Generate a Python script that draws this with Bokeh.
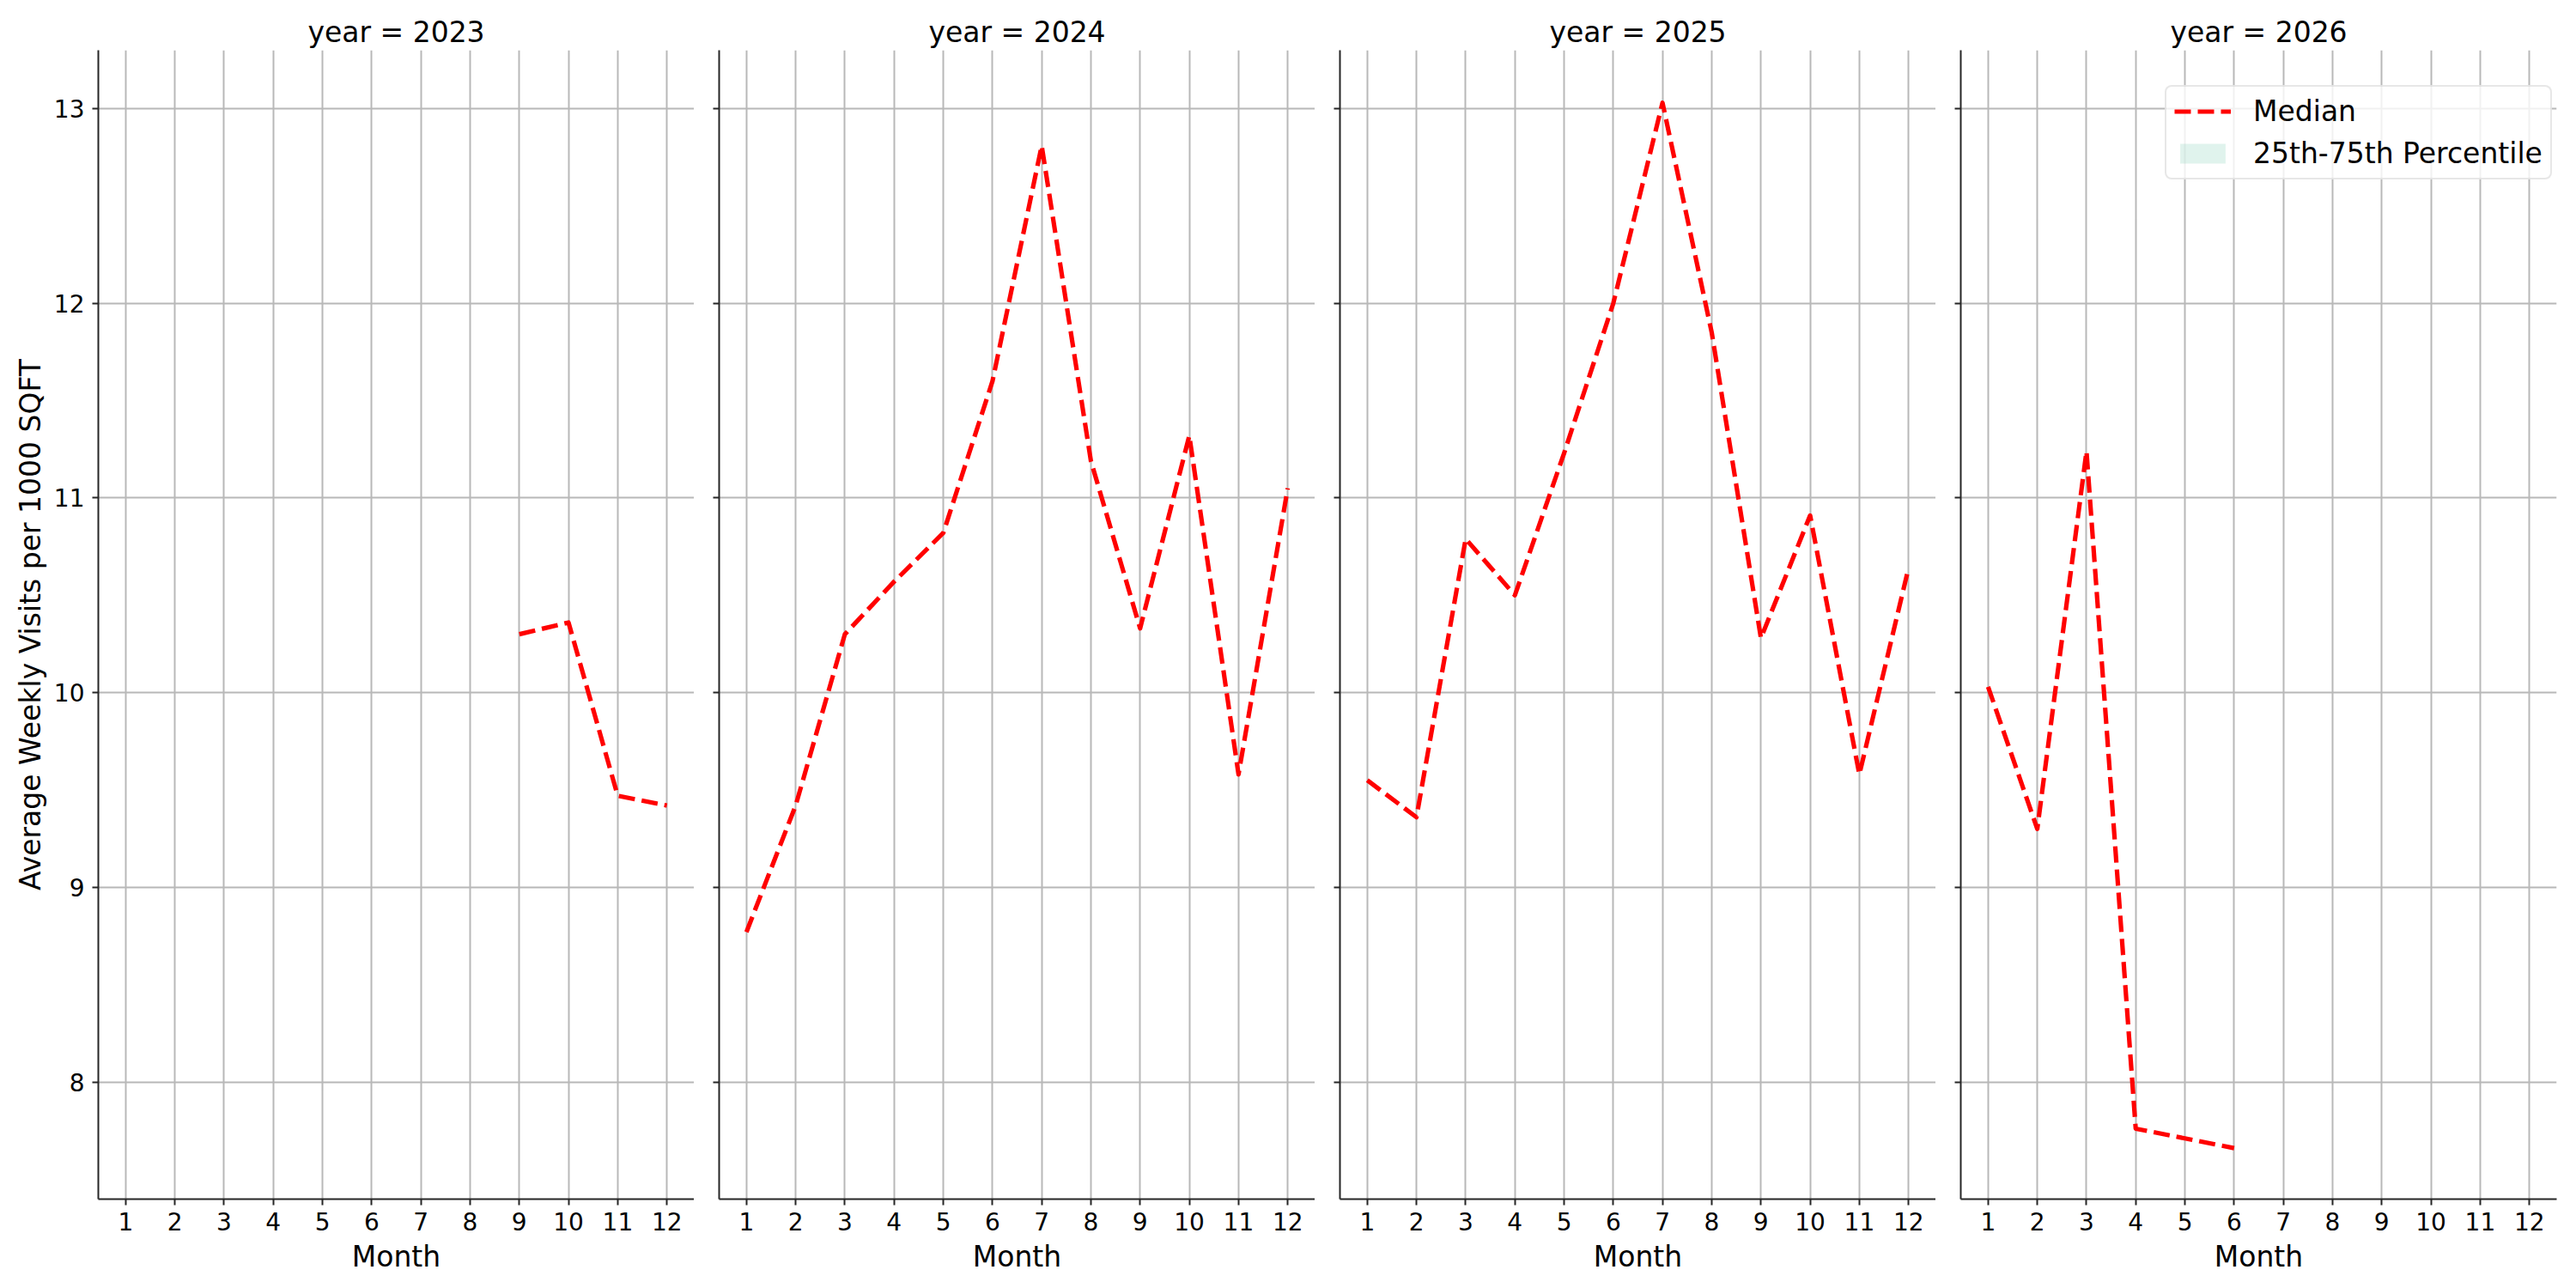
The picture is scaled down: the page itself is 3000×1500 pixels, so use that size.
from bokeh.plotting import figure
from bokeh.layouts import row
from bokeh.models import Range1d, FixedTicker, Legend, LegendItem, ColumnDataSource
from bokeh.embed import file_html
from bokeh.resources import INLINE

# ---- data ----
years = [2023, 2024, 2025, 2026]
month_ticks = [1, 2, 3, 4, 5, 6, 7, 8, 9, 10, 11, 12]
value_ticks = [8, 9, 10, 11, 12, 13]

months_2023 = [9, 10, 11, 12]
median_2023 = [10.30, 10.36, 9.47, 9.42]

months_2024 = [1, 2, 3, 4, 5, 6, 7, 8, 9, 10, 11, 12]
median_2024 = [8.77, 9.42, 10.30, 10.57, 10.82, 11.60, 12.81, 11.19, 10.33, 11.32, 9.58, 11.05]

months_2025 = [1, 2, 3, 4, 5, 6, 7, 8, 9, 10, 11, 12]
median_2025 = [9.55, 9.36, 10.79, 10.50, 11.23, 12.00, 13.03, 11.85, 10.28, 10.91, 9.58, 10.64]

months_2026 = [1, 2, 3, 4, 5, 6]
median_2026 = [10.03, 9.30, 11.24, 7.76, 7.71, 7.66]

# 25th-75th percentile band: no visible width in the reference,
# i.e. the 25th and 75th percentiles coincide with the median.
p25_2023 = list(median_2023)
p75_2023 = list(median_2023)
p25_2024 = list(median_2024)
p75_2024 = list(median_2024)
p25_2025 = list(median_2025)
p75_2025 = list(median_2025)
p25_2026 = list(median_2026)
p75_2026 = list(median_2026)

series = {
    2023: (months_2023, median_2023, p25_2023, p75_2023),
    2024: (months_2024, median_2024, p25_2024, p75_2024),
    2025: (months_2025, median_2025, p25_2025, p75_2025),
    2026: (months_2026, median_2026, p25_2026, p75_2026),
}

FONT = "DejaVu Sans"
AX = "#262626"
GRID = "#b8b8b8"

figs = []
for i, yr in enumerate(years):
    last = (i == len(years) - 1)
    first = (i == 0)
    w = (114 if first else 29) + 694 + (23 if last else 0)
    p = figure(width=w, height=1500, output_backend="svg", toolbar_location=None,
               x_range=Range1d(0.445, 12.555), y_range=Range1d(7.398, 13.30),
               min_border_left=(114 if first else 29), min_border_right=(23 if last else 0),
               min_border_top=58, min_border_bottom=104)
    p.outline_line_color = None
    p.background_fill_color = "white"
    p.border_fill_color = "white"

    p.title.text = f"year = {yr}"
    p.title.align = "center"
    p.title.text_font = FONT
    p.title.text_font_size = "33px"
    p.title.text_font_style = "normal"
    p.title.text_color = "black"
    p.title.standoff = 4

    xa = p.xaxis[0]
    ya = p.yaxis[0]
    xa.ticker = FixedTicker(ticks=month_ticks)
    ya.ticker = FixedTicker(ticks=value_ticks)
    p.xgrid[0].ticker = FixedTicker(ticks=month_ticks)
    p.ygrid[0].ticker = FixedTicker(ticks=value_ticks)
    for g in (p.xgrid[0], p.ygrid[0]):
        g.grid_line_color = GRID
        g.grid_line_width = 2

    for ax in (xa, ya):
        ax.axis_line_color = AX
        ax.axis_line_width = 2
        ax.major_tick_line_color = AX
        ax.major_tick_line_width = 2
        ax.major_tick_out = 7
        ax.major_tick_in = 0
        ax.minor_tick_line_color = None
        ax.major_label_text_font = FONT
        ax.major_label_text_font_size = "28px"
        ax.major_label_text_color = "black"
        ax.axis_label_text_font = FONT
        ax.axis_label_text_font_size = "33px"
        ax.axis_label_text_font_style = "normal"
        ax.axis_label_text_color = "black"
    xa.major_label_standoff = 8
    ya.major_label_standoff = 9
    xa.axis_label = "Month"
    xa.axis_label_standoff = 8
    if first:
        ya.axis_label = "Average Weekly Visits per 1000 SQFT"
        ya.axis_label_standoff = 5
    else:
        ya.major_label_overrides = {v: "" for v in value_ticks}

    mx, my, lo, hi = series[yr]
    bsrc = ColumnDataSource(dict(x=mx, y1=lo, y2=hi))
    band_r = p.varea(x="x", y1="y1", y2="y2", source=bsrc,
                     fill_color="#66c2a5", fill_alpha=0.2)
    src = ColumnDataSource(dict(x=mx, y=my))
    line_r = p.line("x", "y", source=src, line_color="red", line_width=5.2,
                    line_dash="19 8", line_join="round")

    if last:
        leg = Legend(items=[LegendItem(label="Median", renderers=[line_r]),
                            LegendItem(label="25th-75th Percentile", renderers=[band_r])],
                     location=(238, 1187))
        leg.label_text_font = FONT
        leg.label_text_font_size = "33px"
        leg.label_text_color = "black"
        leg.glyph_width = 66
        leg.glyph_height = 29
        leg.label_height = 38
        leg.label_standoff = 26
        leg.padding = 9
        leg.spacing = 10
        leg.margin = 0
        leg.border_line_color = "#d0d0d0"
        leg.border_line_width = 2
        leg.background_fill_color = "white"
        leg.background_fill_alpha = 0.8
        if "border_radius" in Legend.properties():
            leg.border_radius = 8
        p.add_layout(leg)

    figs.append(p)

layout = row(*figs, spacing=0)
open("out.html", "w").write(file_html(layout, INLINE))
